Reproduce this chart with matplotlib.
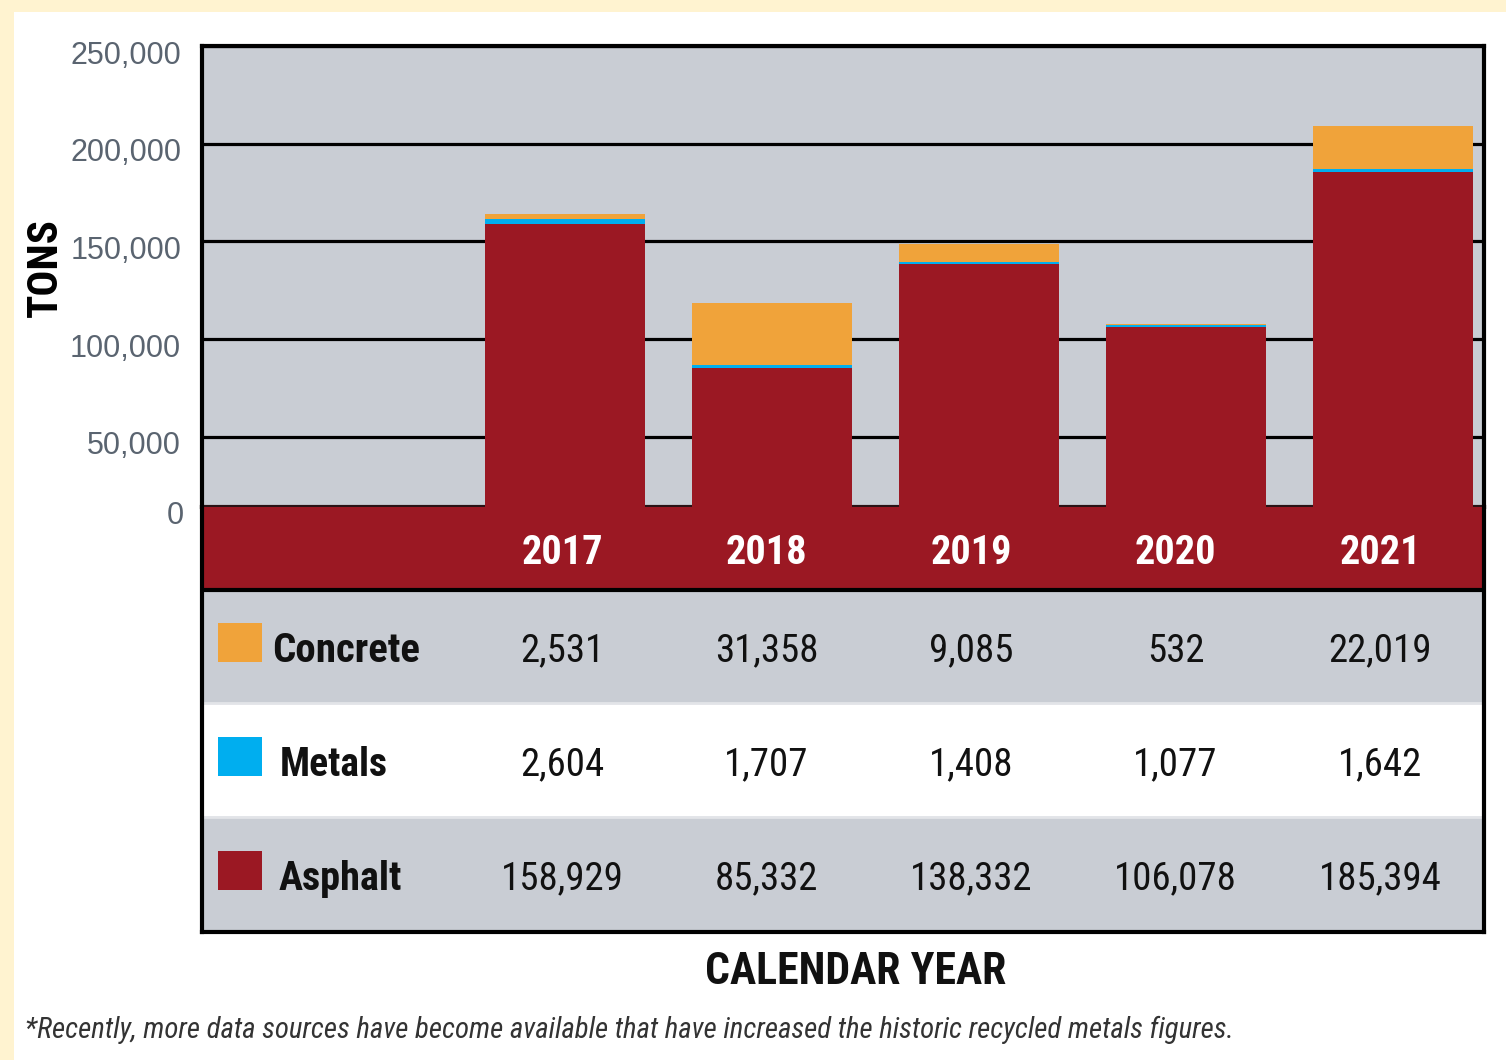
import numpy as np
import matplotlib
matplotlib.use('Agg')
import matplotlib.pyplot as plt
from matplotlib import font_manager as fm
from matplotlib.patches import Rectangle
from matplotlib.transforms import ScaledTranslation

years = ['2017', '2018', '2019', '2020', '2021']
concrete = [2531, 31358, 9085, 532, 22019]
metals = [2604, 1707, 1408, 1077, 1642]
asphalt = [158929, 85332, 138332, 106078, 185394]
yticks = [50000, 100000, 150000, 200000, 250000]

RED = '#9B1823'
ORANGE = '#F0A33A'
CYAN = '#00AEEF'
GREY = '#C9CDD4'

# pick a condensed face that is installed
installed = {f.name for f in fm.fontManager.ttflist}
NARROW = next(n for n in ['Roboto Condensed', 'Archivo Narrow', 'Barlow Condensed',
                          'Asap Condensed', 'DejaVu Sans'] if n in installed)

W, H = 1506, 1060
fig = plt.figure(figsize=(W / 100, H / 100), dpi=100)
fig.patch.set_facecolor('#FFF3D0')
fig.add_artist(Rectangle((14 / W, 0), 1, 1 - 12 / H, transform=fig.transFigure,
                         facecolor='white', edgecolor='none', zorder=0))

# ---- bar chart
ax = fig.add_axes([202 / W, 1 - 507 / H, 1282 / W, 461 / H])
ax.set_facecolor(GREY)
x = np.arange(1, len(years) + 1)
a = np.array(asphalt)
m = np.array(metals)
c = np.array(concrete)
ax.bar(x, a, 0.773, color=RED, zorder=3)
ax.bar(x, m, 0.773, bottom=a, color=CYAN, zorder=3)
ax.bar(x, c, 0.773, bottom=a + m, color=ORANGE, zorder=3)
ax.set_xlim(-0.754, 5.44)
ax.set_ylim(14194, 250000)
ax.set_yticks(yticks)
ax.set_yticklabels([f'{v:,}' for v in yticks], fontfamily='Liberation Sans',
                   fontsize=22, color='#5A6470')
ax.tick_params(axis='y', length=0, pad=15)
shift = ScaledTranslation(0, -0.06, fig.dpi_scale_trans)
for lab in ax.get_yticklabels():
    lab.set_transform(lab.get_transform() + shift)
ax.set_xticks([])
ax.yaxis.grid(True, color='black', lw=2.3)
ax.set_axisbelow(True)
for s in ax.spines.values():
    s.set_linewidth(3)
    s.set_color('black')
ax.spines['bottom'].set_color('#2A1215')
ax.text(-0.014, -0.02, '0', transform=ax.transAxes, ha='right', va='center',
        fontfamily='Liberation Sans', fontsize=22, color='#5A6470')

fig.text(45 / W, 1 - 268 / H, 'TONS', rotation=90, ha='center', va='center',
         family=NARROW, fontweight='bold', fontsize=31)

# ---- data table under the bars
tab = fig.add_axes([202 / W, 1 - 932 / H, 1282 / W, 425 / H])
tab.set_xlim(0, 1282)
tab.set_ylim(425, 0)
tab.set_xticks([])
tab.set_yticks([])
tab.axhspan(0, 83, color=RED, zorder=0)
tab.axhspan(83, 196, color=GREY, zorder=0)
tab.axhspan(196, 310, color='white', zorder=0)
tab.axhspan(310, 425, color=GREY, zorder=0)
tab.axhline(83, color='black', lw=3)
tab.axhline(196, color='#E2E4E8', lw=2)
tab.axhline(310, color='#E2E4E8', lw=2)
for s in tab.spines.values():
    s.set_linewidth(3)
    s.set_color('black')
tab.spines['top'].set_visible(False)

cols = 360 + 204.5 * np.arange(len(years))
for cx, yr in zip(cols, years):
    tab.text(cx, 46, yr, ha='center', va='center', color='white',
             family=NARROW, fontweight='bold', fontsize=29)

rows = [('Concrete', concrete, ORANGE, 144, 70, 29.5),
        ('Metals', metals, CYAN, 258, 78, 28.5),
        ('Asphalt', asphalt, RED, 372, 77, 29)]
for name, vals, col, yc, lx, fs in rows:
    tab.add_patch(Rectangle((16, yc - 28), 44, 39, facecolor=col, edgecolor='none'))
    tab.text(lx, yc, name, ha='left', va='center', family=NARROW,
             fontweight='bold', fontsize=fs, color='#111111')
    for cx, v in zip(cols, vals):
        tab.text(cx, yc, f'{v:,}', ha='center', va='center', family=NARROW,
                 fontsize=28, color='#111111')

fig.text(856 / W, 1 - 972 / H, 'CALENDAR YEAR', ha='center', va='center',
         family=NARROW, fontweight='bold', fontsize=31.5, color='#111111')
fig.text(25 / W, 1 - 1030 / H,
         '*Recently, more data sources have become available that have increased '
         'the historic recycled metals figures.',
         ha='left', va='center', family=NARROW, style='italic', fontsize=20.8,
         color='#333333')

fig.savefig('out.png', dpi=100, facecolor=fig.get_facecolor())
